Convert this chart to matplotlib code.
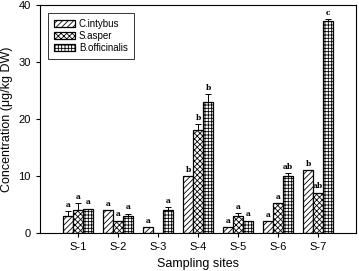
import numpy as np
import matplotlib.pyplot as plt

plt.rcParams['font.family'] = ['Liberation Sans', 'DejaVu Sans']
plt.rcParams['hatch.linewidth'] = 0.6

# data
sites = ['S-1', 'S-2', 'S-3', 'S-4', 'S-5', 'S-6', 'S-7']
especies = ['C.intybus', 'S.asper', 'B.officinalis']
c_intybus = [3.0, 4.0, 1.0, 10.0, 1.0, 2.1, 11.0]
s_asper = [4.0, 2.2, 0.0, 18.1, 3.0, 5.2, 7.1]
b_officinalis = [4.2, 3.0, 4.0, 23.0, 2.2, 10.0, 37.2]
err_c = [0.9, 0.0, 0.0, 0.0, 0.0, 0.0, 0.0]
err_s = [1.2, 0.0, 0.0, 1.0, 0.5, 0.0, 0.0]
err_b = [0.1, 0.4, 0.5, 1.4, 0.0, 0.5, 0.3]
letras_c = ['a', 'a', 'a', 'b', 'a', 'a', 'b']
letras_s = ['a', 'a', '', 'b', 'a', 'a', 'ab']
letras_b = ['a', 'a', 'a', 'b', 'a', 'ab', 'c']

series = [c_intybus, s_asper, b_officinalis]
errores = [err_c, err_s, err_b]
letras = [letras_c, letras_s, letras_b]
hatches = ['//////', 'xxxxxx', '+++++']

fig = plt.figure(figsize=(3.59, 2.71), dpi=100)
ax = fig.add_axes([0.111, 0.140, 0.881, 0.842])

x = np.arange(1, len(sites) + 1)
ancho = 0.25
for k in range(3):
    pos = x + (k - 1) * ancho
    vals = np.array(series[k])
    err = np.array(errores[k])
    ax.bar(pos, vals, width=ancho, color='white', edgecolor='black',
           linewidth=0.9, hatch=hatches[k], label=especies[k])
    ax.errorbar(pos, vals, yerr=[np.zeros_like(err), err], fmt='none',
                ecolor='black', elinewidth=0.7, capsize=2.5, capthick=0.7)
    for p, v, e, l in zip(pos, vals, err, letras[k]):
        if l:
            ax.text(p, v + e + 0.4, l, ha='center', va='bottom',
                    fontsize=5.5, fontweight='bold', family='DejaVu Serif')

ax.set_xlim(0.05, 7.95)
ax.set_ylim(0, 40)
ax.set_xticks(x)
ax.set_xticklabels(sites, fontsize=8)
ax.set_yticks([0, 10, 20, 30, 40])
ax.tick_params(axis='y', labelsize=8, length=3, direction='out')
ax.tick_params(axis='x', length=3, direction='out')
ax.set_xlabel('Sampling sites', fontsize=9)
ax.set_ylabel('Concentration (\u03bcg/kg DW)', fontsize=9)
for s in ax.spines.values():
    s.set_linewidth(0.8)

leg = ax.legend(loc='upper left', fontsize=7, fancybox=False, edgecolor='black',
                handlelength=2.2, handleheight=0.8, borderpad=0.6,
                labelspacing=0.2, handletextpad=0.4, bbox_to_anchor=(0.01, 0.985))
leg.get_frame().set_linewidth(0.7)

fig.savefig('out.png', dpi=100)
